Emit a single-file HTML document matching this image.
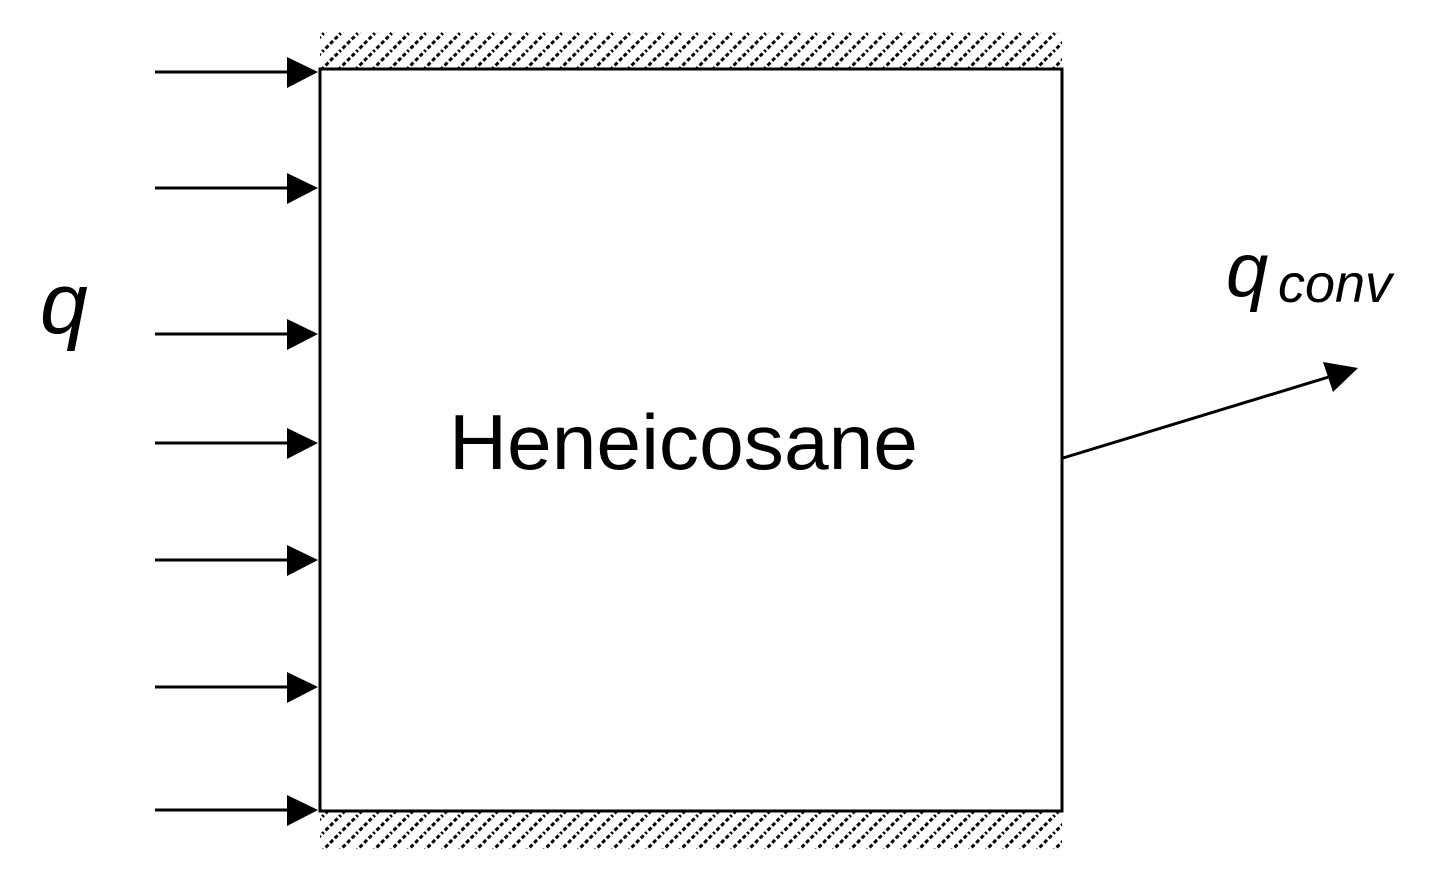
<!DOCTYPE html>
<html><head><style>html,body{margin:0;padding:0;background:#fff;}svg{display:block}</style></head>
<body>
<svg width="1446" height="877" viewBox="0 0 1446 877" xmlns="http://www.w3.org/2000/svg">
<defs>
<pattern id="h" width="17" height="17" patternUnits="userSpaceOnUse">
<path d="M-2,19 L19,-2 M-2,2 L2,-2 M15,19 L19,15" stroke="#000" stroke-width="3" stroke-dasharray="4,2.5"/>
</pattern>
</defs>
<rect x="320" y="32" width="742" height="36" fill="url(#h)"/>
<rect x="320" y="812" width="742" height="37" fill="url(#h)"/>
<rect x="320" y="69" width="742" height="742" fill="none" stroke="#000" stroke-width="3"/>
<g stroke="#000" stroke-width="3">
<line x1="155" y1="72" x2="292" y2="72"/>
<line x1="155" y1="188" x2="292" y2="188"/>
<line x1="155" y1="334" x2="292" y2="334"/>
<line x1="155" y1="443" x2="292" y2="443"/>
<line x1="155" y1="560" x2="292" y2="560"/>
<line x1="155" y1="687" x2="292" y2="687"/>
<line x1="155" y1="810" x2="292" y2="810"/>
<line x1="1063" y1="458" x2="1332" y2="376"/>
</g>
<g fill="#000">
<polygon points="287,57 318,72 287,88"/>
<polygon points="287,173 318,188 287,204"/>
<polygon points="287,319 318,334 287,350"/>
<polygon points="287,428 318,443 287,459"/>
<polygon points="287,545 318,560 287,576"/>
<polygon points="287,672 318,687 287,703"/>
<polygon points="287,795 318,810 287,826"/>
<polygon points="1358,368 1323,362 1333,392"/>
</g>
<text x="449" y="469" font-family="Liberation Sans, sans-serif" font-size="78" textLength="469" lengthAdjust="spacingAndGlyphs">Heneicosane</text>
<text x="40" y="333" font-family="Liberation Sans, sans-serif" font-style="italic" font-size="86">q</text>
<text x="1226" y="296" font-family="Liberation Sans, sans-serif" font-style="italic" font-size="76">q</text>
<text x="1278" y="302" font-family="Liberation Sans, sans-serif" font-style="italic" font-size="54" textLength="114" lengthAdjust="spacingAndGlyphs">conv</text>
</svg>
</body></html>
